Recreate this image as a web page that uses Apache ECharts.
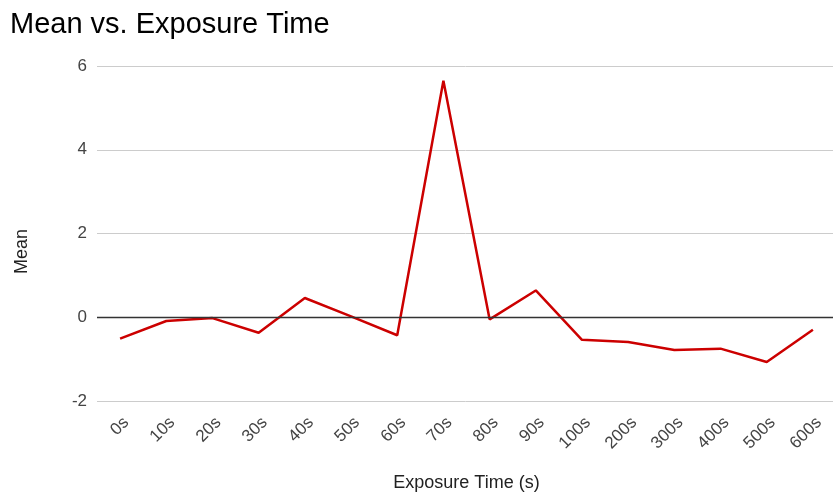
<!DOCTYPE html>
<html>
<head>
<meta charset="utf-8">
<script src="https://cdn.jsdelivr.net/npm/echarts@6/dist/echarts.min.js"></script>
<style>html,body{margin:0;padding:0;background:#fff}#c{width:833px;height:494px}</style>
</head>
<body>
<div id="c"></div>
<script>
const categories = ['0s','10s','20s','30s','40s','50s','60s','70s','80s','90s','100s','200s','300s','400s','500s','600s'];
const meanValues = [-0.51, -0.09, -0.02, -0.37, 0.46, 0.02, -0.43, 5.65, -0.05, 0.64, -0.54, -0.59, -0.78, -0.75, -1.07, -0.30];
const yTicks = { min: -2, max: 6, interval: 2 };

const chart = echarts.init(document.getElementById('c'), null, { renderer: 'canvas' });
const font = 'Liberation Sans, Arial, sans-serif';
chart.setOption({
  animation: false,
  backgroundColor: '#fff',
  title: {
    text: 'Mean vs. Exposure Time',
    left: 5, top: 5,
    textStyle: { fontFamily: font, fontSize: 29, fontWeight: 'normal', color: '#000' }
  },
  grid: { left: 97, right: -3, top: 66, bottom: 93, containLabel: false, outerBoundsMode: 'none' },
  xAxis: {
    type: 'category',
    data: categories,
    boundaryGap: true,
    name: 'Exposure Time (s)',
    nameLocation: 'middle',
    nameGap: 73,
    nameTextStyle: { fontFamily: font, fontSize: 18, color: '#222' },
    axisLine: { show: false },
    axisTick: { show: false },
    axisLabel: { rotate: 45, fontFamily: font, fontSize: 17, color: '#444', margin: 13, interval: 0, verticalAlign: 'top' }
  },
  yAxis: {
    type: 'value',
    min: yTicks.min, max: yTicks.max, interval: yTicks.interval,
    name: 'Mean',
    nameLocation: 'middle',
    nameGap: 66,
    nameTextStyle: { fontFamily: font, fontSize: 18, color: '#222', padding: [0, 36, 0, 0] },
    axisLine: { show: false },
    axisTick: { show: false },
    axisLabel: { fontFamily: font, fontSize: 17, color: '#444', margin: 10 },
    splitLine: { lineStyle: { color: '#cccccc', width: 1 } }
  },
  series: [{
    type: 'line',
    data: meanValues,
    showSymbol: false,
    symbol: 'none',
    lineStyle: { color: '#cc0000', width: 2.5 },
    itemStyle: { color: '#cc0000' },
    markLine: {
      silent: true,
      symbol: ['none', 'none'],
      label: { show: false },
      lineStyle: { color: '#333', width: 1.3, type: 'solid' },
      data: [{ yAxis: 0 }]
    },
    z: 3
  }]
});
</script>
</body>
</html>
